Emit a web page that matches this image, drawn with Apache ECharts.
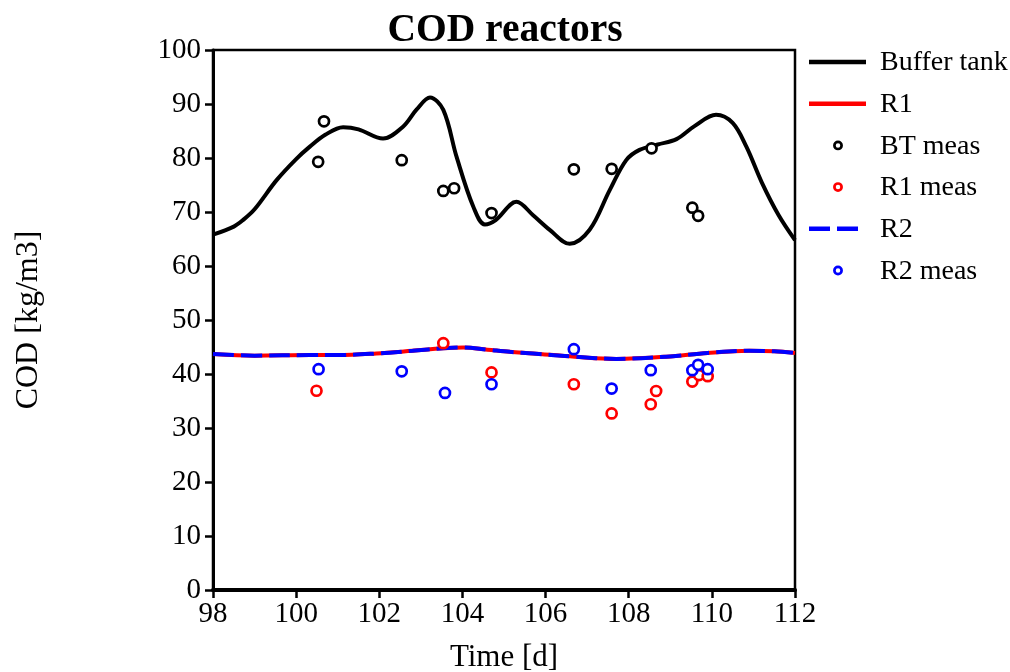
<!DOCTYPE html>
<html><head><meta charset="utf-8">
<script src="https://cdn.jsdelivr.net/npm/echarts@6/dist/echarts.min.js"></script>
<style>html,body{margin:0;padding:0;background:#fff}#c{width:1010px;height:672px}</style>
</head><body><div id="c"></div>
<script>
const title = "COD reactors";
const xTicks = [98,100,102,104,106,108,110,112];
const bufferTank = [[98.0,65.8],[98.5,67.3],[98.72,68.5],[99.0,70.5],[99.53,75.9],[100.0,79.8],[100.33,82.1],[100.7,84.3],[101.13,85.7],[101.5,85.3],[102.09,83.6],[102.57,85.8],[102.9,89.0],[103.22,91.2],[103.54,88.9],[103.86,80.2],[104.26,71.0],[104.54,67.7],[104.8,68.5],[105.3,71.9],[105.7,69.4],[106.1,66.7],[106.58,64.1],[107.06,66.7],[107.54,74.0],[107.94,79.6],[108.26,81.5],[108.7,82.5],[109.15,83.5],[109.6,86.0],[110.1,88.0],[110.5,86.5],[110.83,82.1],[111.2,75.5],[111.6,69.5],[112.0,64.8]];
const r1Line = [[98,43.7],[99,43.4],[100.33,43.5],[101,43.5],[101.93,43.8],[102.8,44.3],[103.54,44.75],[104.02,44.9],[104.6,44.5],[105.14,44.1],[105.7,43.8],[106.7,43.2],[107.7,42.8],[108.9,43.2],[109.9,43.9],[110.9,44.3],[111.5,44.2],[112,43.9]];
const r2Line = [[98,43.7],[99,43.4],[100.33,43.5],[101,43.5],[101.93,43.8],[102.8,44.3],[103.54,44.75],[104.02,44.9],[104.6,44.5],[105.14,44.1],[105.7,43.8],[106.7,43.2],[107.7,42.8],[108.9,43.2],[109.9,43.9],[110.9,44.3],[111.5,44.2],[112,43.9]];
const btMeas = [[100.53,79.3],[100.67,86.8],[102.54,79.6],[103.54,73.9],[103.8,74.4],[104.7,69.8],[106.68,77.9],[107.59,78.0],[108.55,81.8],[109.53,70.8],[109.67,69.3]];
const r1Meas = [[100.49,36.9],[103.54,45.7],[104.7,40.3],[106.68,38.1],[107.59,32.7],[108.53,34.4],[108.66,36.85],[109.53,38.6],[109.69,39.8],[109.9,39.6]];
const r2Meas = [[100.54,40.9],[102.54,40.5],[103.58,36.5],[104.7,38.1],[106.68,44.6],[107.59,37.3],[108.53,40.7],[109.53,40.7],[109.67,41.7],[109.9,40.9]];
const legendNames = ['Buffer tank','R1','BT meas','R1 meas','R2','R2 meas'];
const legendKinds = ['line','line','dot','dot','dash','dot'];
const legendColors = ['#000','#f00','#000','#f00','#00f','#00f'];

const FONT = '"Liberation Serif","DejaVu Serif",serif';
const chart = echarts.init(document.getElementById('c'));
const scatterStyle = c => ({color:'#fff', borderColor:c, borderWidth:2.7, opacity:1});

const legendGraphics = [];
const legY0 = 62, legStep = 41.7;
legendNames.forEach((n,i)=>{
  const y = legY0 + i*legStep;
  const c = legendColors[i], k = legendKinds[i];
  if (k==='line') legendGraphics.push({type:'line',shape:{x1:809,y1:y,x2:866,y2:y},style:{stroke:c,lineWidth:4.5}});
  else if (k==='dash') legendGraphics.push({type:'line',shape:{x1:809,y1:y,x2:859,y2:y},style:{stroke:c,lineWidth:4.5,lineDash:[21,7]}});
  else legendGraphics.push({type:'circle',shape:{cx:838,cy:y,r:3.6},style:{fill:'#fff',stroke:c,lineWidth:2.7}});
  legendGraphics.push({type:'text',x:880,y:y+1,style:{text:n,font:'28px '+FONT,fill:'#000',textVerticalAlign:'middle',verticalAlign:'middle'}});
});

chart.setOption({
  animation:false,
  backgroundColor:'#fff',
  title:{text:title,left:500,textAlign:'center',top:6,textStyle:{fontFamily:FONT,fontSize:39.5,fontWeight:'bold',color:'#000'}},
  grid:{left:213,top:50,right:215,bottom:82,outerBoundsMode:'none',containLabel:false,show:true,borderColor:'#000',borderWidth:2.5,backgroundColor:'transparent'},
  graphic:legendGraphics,
  xAxis:{type:'value',min:98,max:112,interval:2,
    name:'Time [d]',nameLocation:'middle',nameGap:52,nameTextStyle:{fontFamily:FONT,fontSize:31,color:'#000'},
    axisLine:{show:true,lineStyle:{color:'#000',width:4}},
    axisTick:{show:true,length:8,lineStyle:{color:'#000',width:2.5}},
    axisLabel:{fontFamily:FONT,fontSize:29,color:'#000',margin:10,formatter:v=>xTicks.includes(v)?String(v):''},
    splitLine:{show:false}},
  yAxis:{type:'value',min:0,max:100,interval:10,
    name:'COD [kg/m3]',nameLocation:'middle',nameGap:168,nameRotate:90,nameTextStyle:{fontFamily:FONT,fontSize:32,color:'#000'},
    axisLine:{show:true,lineStyle:{color:'#000',width:3}},
    axisTick:{show:true,length:8,lineStyle:{color:'#000',width:2.5}},
    axisLabel:{fontFamily:FONT,fontSize:29,color:'#000',margin:12},
    splitLine:{show:false}},
  series:[
    {name:'Buffer tank',type:'line',data:bufferTank,smooth:0.35,symbol:'none',lineStyle:{color:'#000',width:4},itemStyle:{color:'#000'},z:3},
    {name:'R1',type:'line',data:r1Line,smooth:0.35,symbol:'none',lineStyle:{color:'#f00',width:4},itemStyle:{color:'#f00'},z:3},
    {name:'BT meas',type:'scatter',data:btMeas,symbol:'circle',symbolSize:10,itemStyle:scatterStyle('#000'),z:4},
    {name:'R1 meas',type:'scatter',data:r1Meas,symbol:'circle',symbolSize:10,itemStyle:scatterStyle('#f00'),z:4},
    {name:'R2',type:'line',data:r2Line,smooth:0.35,symbol:'none',lineStyle:{color:'#00f',width:4,type:[21,7]},itemStyle:{color:'#00f'},z:3},
    {name:'R2 meas',type:'scatter',data:r2Meas,symbol:'circle',symbolSize:10,itemStyle:scatterStyle('#00f'),z:4}
  ]
});
</script></body></html>
